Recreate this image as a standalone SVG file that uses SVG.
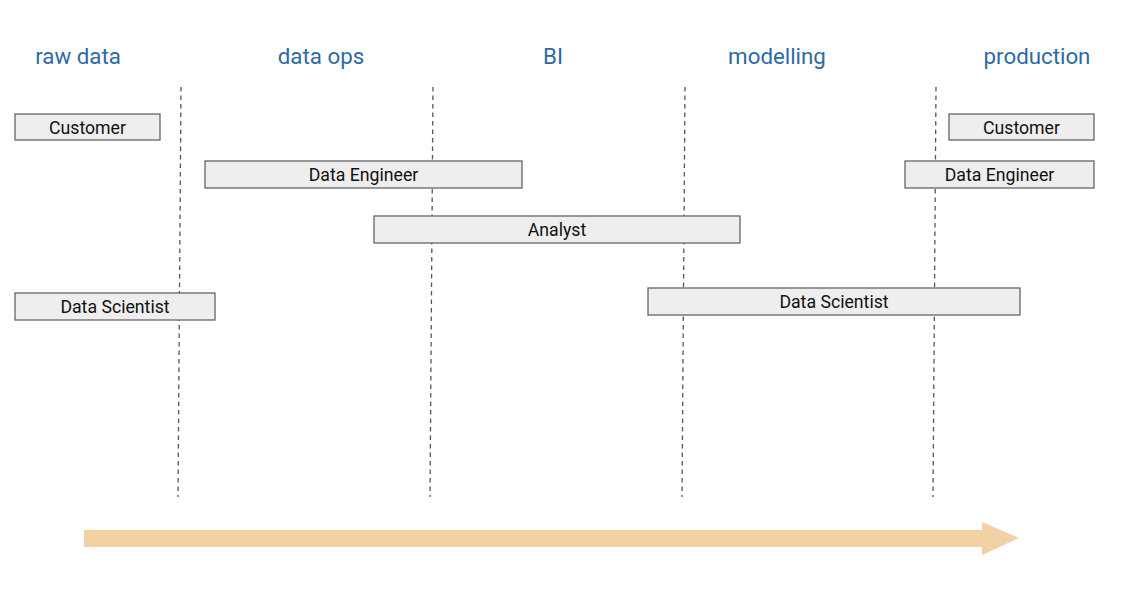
<svg xmlns="http://www.w3.org/2000/svg" width="1125" height="600" viewBox="0 0 1125 600">
<style>
.hdr{font-family:Roboto,"Liberation Sans",sans-serif;font-size:22.3px;fill:#2d6aa4;text-anchor:middle}
.box rect{fill:#eeeeee;stroke:#666666;stroke-width:1.3}
.box text{font-family:Roboto,"Liberation Sans",sans-serif;font-size:17.7px;fill:#111111;text-anchor:middle}
.sep{stroke:#555555;stroke-width:1.3;stroke-dasharray:4.5 4;fill:none}
</style>
<rect width="1125" height="600" fill="#ffffff"/>
<g id="headers">
<text class="hdr" x="78" y="64">raw data</text>
<text class="hdr" x="321" y="64">data ops</text>
<text class="hdr" x="553" y="64">BI</text>
<text class="hdr" x="777" y="64">modelling</text>
<text class="hdr" x="1037" y="64">production</text>
</g>
<g id="connectors">
<line class="sep" x1="181" y1="87" x2="178" y2="497"/>
<line class="sep" x1="433" y1="87" x2="430" y2="497"/>
<line class="sep" x1="685" y1="87" x2="682" y2="497"/>
<line class="sep" x1="936" y1="87" x2="933" y2="497"/>
<polygon id="timeline-arrow" points="84,530 982,530 982,522 1019,538 982,555 982,547 84,547" fill="#f2d1a5"/>
</g>
<g id="customer-raw" class="box"><rect x="15" y="114" width="145" height="26"/><text x="87.5" y="133.5">Customer</text></g>
<g id="engineer-ops" class="box"><rect x="205" y="161" width="317" height="27"/><text x="363.5" y="181">Data Engineer</text></g>
<g id="analyst" class="box"><rect x="374" y="216" width="366" height="27"/><text x="557" y="236">Analyst</text></g>
<g id="scientist-raw" class="box"><rect x="15" y="293" width="200" height="27"/><text x="115" y="313">Data Scientist</text></g>
<g id="scientist-model" class="box"><rect x="648" y="288" width="372" height="27"/><text x="834" y="308">Data Scientist</text></g>
<g id="customer-prod" class="box"><rect x="949" y="114" width="145" height="26"/><text x="1021.5" y="133.5">Customer</text></g>
<g id="engineer-prod" class="box"><rect x="905" y="161" width="189" height="27"/><text x="999.5" y="181">Data Engineer</text></g>
</svg>
